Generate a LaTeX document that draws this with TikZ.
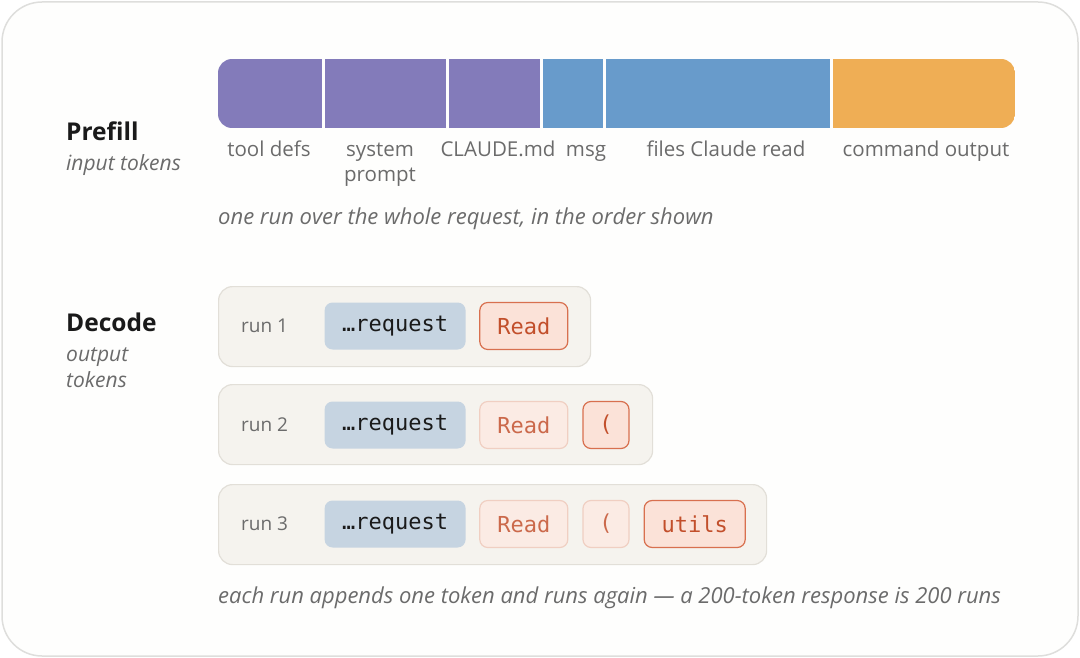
\documentclass[tikz,border=0pt]{standalone}
\usepackage{fontspec}
\setmainfont{Open Sans}
\setmonofont{DejaVu Sans Mono}
\usepackage{tikz}
\usetikzlibrary{positioning}
\definecolor{panelline}{HTML}{DEDEDC}
\definecolor{panelfill}{HTML}{FEFEFD}
\definecolor{tokpurple}{HTML}{837BBA}
\definecolor{tokblue}{HTML}{689BCB}
\definecolor{tokorange}{HTML}{EFAE55}
\definecolor{lblgray}{HTML}{6B6B6B}
\definecolor{headdark}{HTML}{1A1A1A}
\definecolor{runfill}{HTML}{F5F3EE}
\definecolor{runline}{HTML}{E2DFD8}
\definecolor{reqfill}{HTML}{C6D4E1}
\definecolor{newfill}{HTML}{FBE2D8}
\definecolor{newline}{HTML}{D8704F}
\definecolor{oldfill}{HTML}{FBEBE4}
\definecolor{oldline}{HTML}{F0CFC2}
\definecolor{tokred}{HTML}{C24F2B}

\begin{document}
\begin{tikzpicture}[x=1pt,y=-1pt,
    seg/.style={anchor=north west,minimum height=69pt,inner sep=0pt,outer sep=0pt},
    seglabel/.style={text=lblgray,font=\fontsize{20.5}{25}\selectfont,align=center,anchor=base},
    heading/.style={anchor=base west,text=headdark,font=\fontsize{24.5}{28}\selectfont\bfseries,inner sep=0pt},
    subhead/.style={anchor=base west,text=lblgray,font=\fontsize{21}{26}\selectfont\itshape,align=left,inner sep=0pt},
    note/.style={anchor=base west,text=lblgray,font=\fontsize{22}{26}\selectfont\itshape,inner sep=0pt},
    runbox/.style={anchor=north west,draw=runline,fill=runfill,line width=1.2pt,rounded corners=14pt,minimum height=80pt},
    runlabel/.style={anchor=west,text=lblgray,font=\fontsize{19}{24}\selectfont,inner sep=0pt},
    chip/.style={minimum height=47pt,inner sep=0pt,rounded corners=8pt,font=\fontsize{22}{26}\selectfont\ttfamily,line width=1.2pt},
    reqchip/.style={chip,anchor=west,fill=reqfill,text=headdark,minimum width=141pt},
    newtok/.style={chip,fill=newfill,draw=newline,text=tokred},
    oldtok/.style={chip,fill=oldfill,draw=oldline,text=tokred!85}]
  \useasboundingbox (0,0) rectangle (1080,658);
  \draw[panelline,fill=panelfill,line width=1.5pt,rounded corners=40pt] (2,2) rectangle (1078,656);

  % prefill: one bar of input tokens
  \node[heading] (prefill) at (66,141) {Prefill};
  \node[subhead] (prefillsub) at (66,171) {input tokens};
  \begin{scope}
    \clip[rounded corners=14pt] (218,59) rectangle (1015,128);
    \node[seg,fill=tokpurple,minimum width=104pt] (tooldefs) at (218,59) {};
    \node[seg,fill=tokpurple,minimum width=121pt,right=3pt of tooldefs] (sysprompt) {};
    \node[seg,fill=tokpurple,minimum width=91pt,right=3pt of sysprompt] (claudemd) {};
    \node[seg,fill=tokblue,minimum width=60pt,right=3pt of claudemd] (msg) {};
    \node[seg,fill=tokblue,minimum width=224pt,right=3pt of msg] (files) {};
    \node[seg,fill=tokorange,minimum width=182pt,right=3pt of files] (cmdout) {};
  \end{scope}
  \node[seglabel] (tooldefslbl) at (269,157) {tool defs};
  \node[seglabel] (sysprompt lbl) at (380,182) {system\\prompt};
  \node[seglabel] (claudemdlbl) at (498,157) {CLAUDE.md};
  \node[seglabel] (msglbl) at (586,157) {msg};
  \node[seglabel] (fileslbl) at (726,157) {files Claude read};
  \node[seglabel] (cmdoutlbl) at (926,157) {command output};
  \node[note] (prefillnote) at (218,225) {one run over the whole request, in the order shown};

  % decode: one run per new token
  \node[heading] (decode) at (66,331) {Decode};
  \node[subhead] (decodesub) at (66,387) {output\\tokens};

  \node[runbox,minimum width=372pt] (run1) at (218,286) {};
  \node[runlabel] (run1lbl) at (241,326) {run 1};
  \node[reqchip] (req1) at (324,326) {…request};
  \node[newtok,minimum width=88pt,right=13pt of req1] (read1) {Read};

  \node[runbox,minimum width=434pt] (run2) at (218,384) {};
  \node[runlabel] (run2lbl) at (241,425) {run 2};
  \node[reqchip] (req2) at (324,425) {…request};
  \node[oldtok,minimum width=88pt,right=13pt of req2] (read2) {Read};
  \node[newtok,minimum width=46pt,right=14pt of read2] (paren2) {(};

  \node[runbox,minimum width=548pt] (run3) at (218,484) {};
  \node[runlabel] (run3lbl) at (241,524) {run 3};
  \node[reqchip] (req3) at (324,524) {…request};
  \node[oldtok,minimum width=88pt,right=13pt of req3] (read3) {Read};
  \node[oldtok,minimum width=46pt,right=14pt of read3] (paren3) {(};
  \node[newtok,minimum width=101pt,right=14pt of paren3] (utils3) {utils};

  \node[note] (decodenote) at (218,603) {each run appends one token and runs again — a 200-token response is 200 runs};
\end{tikzpicture}
\end{document}
